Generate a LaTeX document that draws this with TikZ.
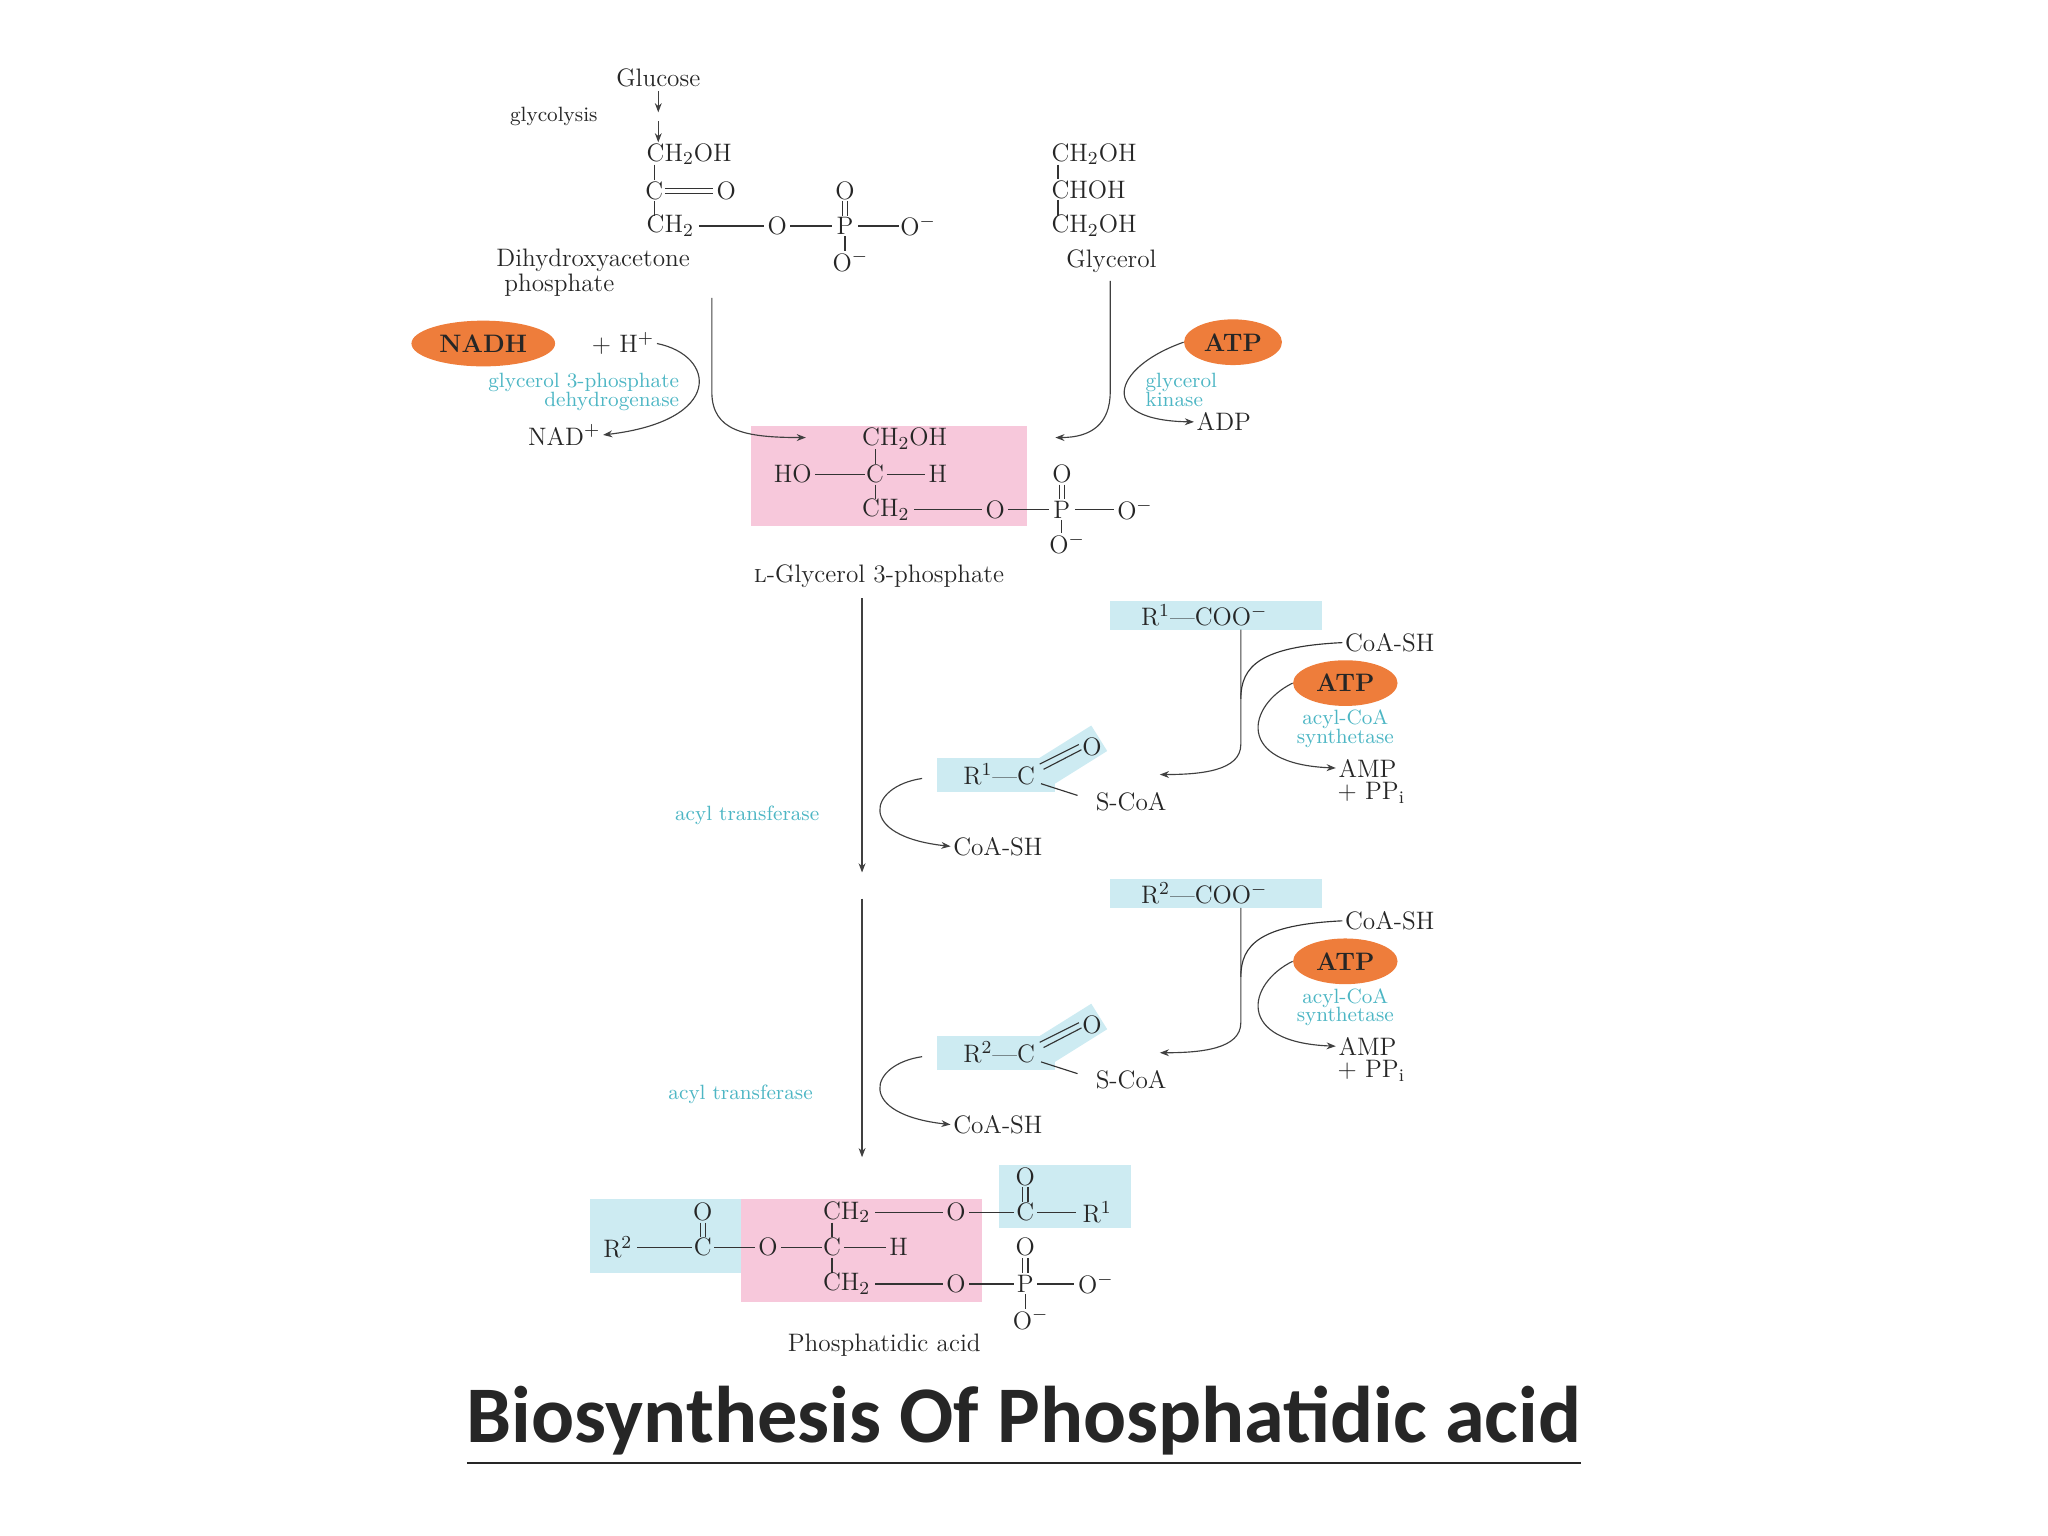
\documentclass[tikz,border=0pt]{standalone}
\usepackage{fontspec}
\newfontfamily\titlefont{Carlito}
\usepackage{amsmath}
\definecolor{orng}{HTML}{EE7D3B}
\definecolor{cyantxt}{HTML}{4DB6C4}
\definecolor{pinkbox}{HTML}{F7C8DB}
\definecolor{bluebox}{HTML}{CDEBF2}
\usetikzlibrary{shapes.geometric,arrows.meta}
\begin{document}
\begin{tikzpicture}[x=0.02cm,y=-0.02cm,
  every node/.style={font=\fontsize{11}{13}\selectfont, inner sep=1pt, text=black!85},
  bond/.style={draw=black!80, line width=0.5pt},
  arr/.style={draw=black!75, line width=0.5pt, -{Stealth[length=4pt]}},
  enz/.style={text=cyantxt, font=\fontsize{9}{11}\selectfont},
  cof/.style={ellipse, fill=orng, minimum width=2.2cm, minimum height=0.7cm, font=\bfseries\fontsize{11}{13}\selectfont}]
\useasboundingbox (0,0) rectangle (1568,1176);
% top
\node (glc) at (504,60) {Glucose};
\draw[arr] (504,70) -- (504,86);
\node (gly) at (424,89) {\fontsize{9}{11}\selectfont glycolysis};
\draw[arr] (504,93) -- (504,109);
% DHAP
\node[anchor=west] (d1) at (493,118) {CH$_2$OH};
\node (d2) at (501,146) {C};
\node (d2o) at (556,146) {O};
\draw[bond] (509,144)--(546,144); \draw[bond] (509,148)--(546,148);
\node[anchor=west] (d3) at (493,173) {CH$_2$};
\draw[bond] (501,126)--(501,138); \draw[bond] (501,154)--(501,165);
\draw[bond] (535,173)--(585,173);
\node (d3o) at (595,173) {O};
\draw[bond] (605,173)--(637,173);
\node (dp) at (647,173) {P};
\draw[bond] (657,173)--(688,173);
\node (dpo) at (703,173) {O$^-$};
\node (dpu) at (647,146) {O};
\draw[bond] (645,154)--(645,165); \draw[bond] (649,154)--(649,165);
\draw[bond] (647,181)--(647,192);
\node (dpd) at (651,200) {O$^-$};
\node[anchor=west] (dl1) at (378,199) {Dihydroxyacetone};
\node[anchor=west] (dl2) at (384,218) {phosphate};
% glycerol
\node[anchor=west] (g1) at (803,118) {CH$_2$OH};
\node[anchor=west] (g2) at (803,145) {CHOH};
\node[anchor=west] (g3) at (803,173) {CH$_2$OH};
\draw[bond] (810,126)--(810,137); \draw[bond] (810,153)--(810,165);
\node (gl) at (851,200) {Glycerol};
% pink box G3P
\fill[pinkbox] (575,326) rectangle (786,403);
\node[anchor=west] (p1) at (658,336) {CH$_2$OH};
\node (pho) at (607,363) {HO};
\draw[bond] (624,363)--(662,363);
\node (pc) at (670,363) {C};
\draw[bond] (679,363)--(708,363);
\node (ph) at (718,363) {H};
\draw[bond] (670,344)--(670,355); \draw[bond] (670,371)--(670,382);
\node[anchor=west] (p3) at (658,390) {CH$_2$};
\draw[bond] (700,390)--(752,390);
\node (po) at (762,390) {O};
\draw[bond] (772,390)--(803,390);
\node (pp) at (813,390) {P};
\draw[bond] (823,390)--(853,390);
\node (ppo) at (869,390) {O$^-$};
\node (ppu) at (813,363) {O};
\draw[bond] (811,371)--(811,382); \draw[bond] (815,371)--(815,382);
\draw[bond] (813,398)--(813,408);
\node (ppd) at (817,416) {O$^-$};
\node (pl) at (673,441) {\textsc{l}-Glycerol 3-phosphate};
% left reaction
\node[cof] (nadh) at (370,263) {NADH};
\node (hplus) at (477,263) {+ H$^+$};
\node[enz,anchor=east] (e1) at (522,293) {glycerol 3-phosphate};
\node[enz,anchor=east] (e2) at (522,307) {dehydrogenase};
\node (nad) at (432,333) {NAD$^+$};
\coordinate (la) at (545,228);
\coordinate (lb) at (617,335);
\draw[arr] (la) -- (545,300) .. controls (545,330) and (570,335) .. (lb);
\draw[arr] (hplus.east) .. controls (548,272) and (555,322) .. (nad.east);
% right reaction
\node[cof, minimum width=1.5cm] (atp1) at (944,262) {ATP};
\node[enz,anchor=west] (e3) at (875,293) {glycerol};
\node[enz,anchor=west] (e4) at (875,306) {kinase};
\node (adp) at (937,323) {ADP};
\coordinate (ra) at (850,215);
\coordinate (rb) at (808,335);
\draw[arr] (ra) -- (850,300) .. controls (850,325) and (835,335) .. (rb);
\draw[arr] (atp1.west) .. controls (850,282) and (840,322) .. (adp.west);
% main arrows
\coordinate (m1) at (660,458); \coordinate (m2) at (660,668);
\coordinate (m3) at (660,688); \coordinate (m4) at (660,886);
\draw[arr] (m1) -- (m2);
\draw[arr] (m3) -- (m4);
% acyl blocks
\foreach \dy/\n in {0/1,213/2}{
  \begin{scope}[yshift=-\dy*0.02cm]
  \fill[bluebox] (850,460) rectangle (1012,482);
  \node (fa\n) at (922,471) {R$^{\n}$---COO$^-$};
  \node (cs\n) at (1064,492) {CoA-SH};
  \node[cof, minimum width=1.6cm] (atp\n b) at (1030,523) {ATP};
  \node[enz] (s\n a) at (1030,551) {acyl-CoA};
  \node[enz] (s\n b) at (1030,565) {synthetase};
  \node (amp\n) at (1047,588) {AMP};
  \node (pp\n) at (1050,607) {+ PP$_{\mathrm{i}}$};
  \draw[arr] (950,482) -- (950,570) .. controls (950,590) and (920,593) .. (888,593);
  \draw[bond] (cs\n.west) .. controls (965,495) and (950,510) .. (950,535);
  \draw[arr] (atp\n b.west) .. controls (955,540) and (945,585) .. (amp\n.west);
  \fill[bluebox] (717,580) rectangle (808,606);
  \fill[bluebox,rotate around={32:(800,593)}] (795,580) rectangle (850,603);
  \node (ac\n) at (765,593) {R$^{\n}$---C};
  \node (aco\n) at (836,572) {O};
  \draw[bond] (796,585)--(826,570); \draw[bond] (799,589)--(828,574);
  \draw[bond] (797,600)--(825,609);
  \node (acs\n) at (866,614) {S-CoA};
  \node (ct\n) at (764,648) {CoA-SH};
  \draw[arr] (706,596) .. controls (665,602) and (655,640) .. (ct\n.west);
  \end{scope}}
\node[enz] (at1) at (572,624) {acyl transferase};
\node[enz] (at2) at (567,838) {acyl transferase};
% phosphatidic acid
\fill[pinkbox] (567,918) rectangle (752,997);
\fill[bluebox] (452,918) rectangle (567,975);
\fill[bluebox] (765,892) rectangle (866,940);
\node[anchor=west] (q1) at (628,928) {CH$_2$};
\draw[bond] (670,928)--(722,928);
\node (q1o) at (732,928) {O};
\draw[bond] (742,928)--(776,928);
\node (q1c) at (785,928) {C};
\draw[bond] (794,928)--(824,928);
\node (q1r) at (840,928) {R$^1$};
\node (q1u) at (785,901) {O};
\draw[bond] (783,909)--(783,920); \draw[bond] (787,909)--(787,920);
\node (q2r) at (473,955) {R$^2$};
\draw[bond] (488,955)--(530,955);
\node (q2c) at (538,955) {C};
\node (q2u) at (538,928) {O};
\draw[bond] (536,936)--(536,947); \draw[bond] (540,936)--(540,947);
\draw[bond] (547,955)--(578,955);
\node (q2o) at (588,955) {O};
\draw[bond] (598,955)--(629,955);
\node (q2cc) at (637,955) {C};
\draw[bond] (646,955)--(678,955);
\node (q2h) at (688,955) {H};
\draw[bond] (637,936)--(637,947); \draw[bond] (637,963)--(637,975);
\node[anchor=west] (q3) at (628,983) {CH$_2$};
\draw[bond] (670,983)--(722,983);
\node (q3o) at (732,983) {O};
\draw[bond] (742,983)--(776,983);
\node (q3p) at (785,983) {P};
\draw[bond] (794,983)--(822,983);
\node (q3po) at (839,983) {O$^-$};
\node (q3u) at (785,955) {O};
\draw[bond] (783,963)--(783,975); \draw[bond] (787,963)--(787,975);
\draw[bond] (785,991)--(785,1002);
\node (q3d) at (789,1010) {O$^-$};
\node (ql) at (677,1030) {Phosphatidic acid};
% title
\node (title) at (784,1092) {\titlefont\bfseries\fontsize{35}{41}\selectfont\underline{Biosynthesis Of Phosphatidic acid}};
\end{tikzpicture}
\end{document}
